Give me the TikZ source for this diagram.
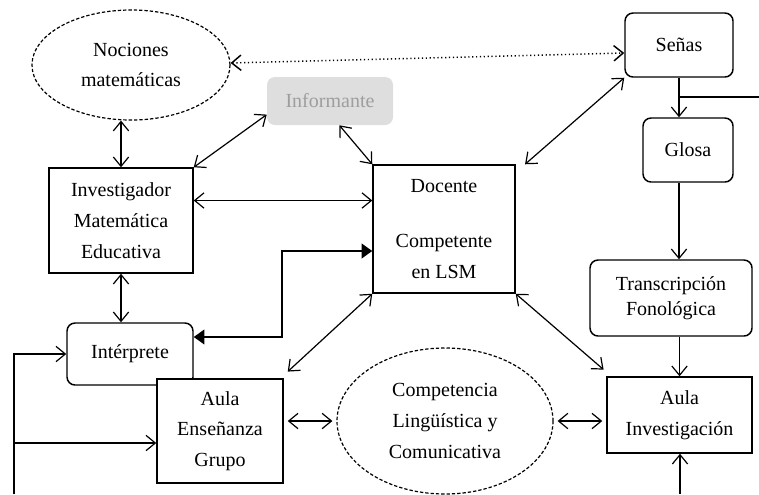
\documentclass[tikz,border=0pt]{standalone}
\usepackage{fontspec}
\setmainfont{Liberation Serif}
\usetikzlibrary{arrows.meta,shapes.geometric}

\begin{document}
\begin{tikzpicture}[x=0.75pt,y=-0.75pt,
  >={Straight Barb[length=7pt,width=11.5pt]},
  every node/.style={font=\fontsize{15}{23}\selectfont,align=center},
  box/.style={draw,line width=1.1pt,fill=white,inner sep=0pt},
  roundbox/.style={box,rounded corners=6pt},
  cloud/.style={ellipse,draw,dash pattern=on 2.5pt off 1.5pt,line width=0.9pt,inner sep=0pt},
  greybox/.style={fill=black!13,text=black!38,rounded corners=6pt,inner sep=0pt},
  link/.style={line width=0.9pt},
  fat/.style={{Triangle[length=8pt,width=11pt]}-{Triangle[length=8pt,width=11pt]},line width=1.5pt}]
\useasboundingbox (0,0) rectangle (759,494);
\node[cloud,minimum width=148.5pt,minimum height=82.5pt] (nociones) at (131,65) {Nociones\\matemáticas};
\node[greybox,minimum width=94.5pt,minimum height=36pt] (informante) at (330,101) {Informante};
\node[roundbox,minimum width=81pt,minimum height=48pt] (senas) at (679,45) {Señas};
\node[roundbox,minimum width=67.5pt,minimum height=48pt] (glosa) at (688,150) {Glosa};
\node[roundbox,minimum width=121.5pt,minimum height=57pt,font=\fontsize{15}{19}\selectfont] (transcr) at (671,298) {Transcripción\\Fonológica};
\node[box,minimum width=108.75pt,minimum height=57pt] (aulainv) at (679.5,415) {Aula\\Investigación};
\node[box,minimum width=106.5pt,minimum height=96pt] (docente) at (444,229) {Docente\\[18pt]Competente\\en LSM};
\node[box,minimum width=108pt,minimum height=78.75pt] (investig) at (121,220.5) {Investigador\\Matemática\\Educativa};
\node[roundbox,minimum width=94.5pt,minimum height=46.5pt] (interprete) at (130,354) {Intérprete};
\node[box,minimum width=94.5pt,minimum height=78pt] (aulaens) at (220,431) {Aula\\Enseñanza\\Grupo};
\node[cloud,minimum width=162pt,minimum height=109.5pt] (competencia) at (445,421) {Competencia\\Lingüística y\\Comunicativa};

\path[<->,link]
  (investig.north) edge (investig.north |- nociones.south)
  (investig.south) edge (investig.south |- interprete.north)
  ([yshift=8pt]informante.south west) edge (investig.north east)
  ([xshift=7pt]informante.south) edge (docente.north west)
  ([yshift=15pt]investig.east) edge ([yshift=15pt]investig.east -| docente.west)
  (senas.south west) edge ([xshift=7pt]docente.north east)
  (docente.south west) edge ([shift={(3pt,5pt)}]aulaens.north east)
  (docente.south east) edge ([shift={(-2pt,5pt)}]aulainv.north west)
  (competencia.west) edge[shorten <=3pt,shorten >=3pt] (competencia.west -| aulaens.east)
  (competencia.east) edge[shorten <=3pt,shorten >=3pt] (competencia.east -| aulainv.west);
\draw[<->,link,dotted,line width=1.1pt] ([yshift=1.5pt]nociones.east) -- ([yshift=-6pt]senas.west);

\draw[->,link] (senas.south) -- (senas.south |- glosa.north);
\draw[->,link] (senas.south |- glosa.south) -- (senas.south |- transcr.north);
\draw[->,link] (aulainv.north |- transcr.south) -- (aulainv.north);
\coordinate (rightend) at (759,97);
\draw[link] (rightend) -- (rightend -| senas.south);
\coordinate (bottomin) at (680,494);
\draw[->,link] (bottomin) -- (bottomin |- aulainv.south);
\coordinate (feed) at (14,494);
\draw[->,link] (feed) |- (interprete.west);
\draw[->,link] (feed) |- ([yshift=-9pt]aulaens.west);
\draw[fat] ([yshift=12.75pt]interprete.east) -| ([xshift=-67.5pt,yshift=-16.5pt]docente.west) -- ([yshift=-16.5pt]docente.west);
\end{tikzpicture}
\end{document}
